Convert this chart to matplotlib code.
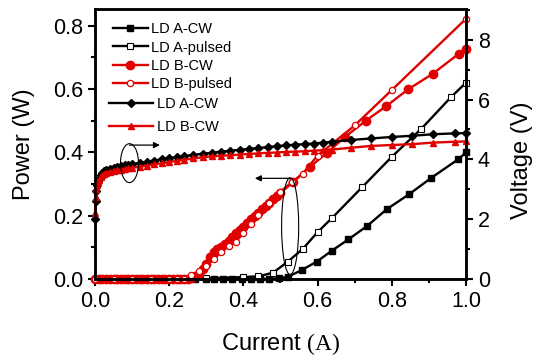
import matplotlib
matplotlib.use("Agg")
import matplotlib.pyplot as plt
from matplotlib.patches import Ellipse
from matplotlib.ticker import MultipleLocator, FormatStrFormatter

plt.rcParams['font.family'] = ['Liberation Sans', 'DejaVu Sans']
plt.rcParams['mathtext.fontset'] = 'custom'
plt.rcParams['mathtext.rm'] = 'Liberation Serif'

# ---- output power (W) vs current (A) ----
cur_a_cw = [0.27, 0.30, 0.32, 0.345, 0.37, 0.395, 0.42, 0.445, 0.47, 0.495,
            0.52, 0.557, 0.598, 0.638, 0.683, 0.734, 0.786, 0.847, 0.907, 0.979, 1.0]
pow_a_cw = [0.0, 0.0, 0.0, 0.0, 0.0, 0.0, 0.0, 0.0, 0.001, 0.002,
            0.007, 0.028, 0.055, 0.089, 0.125, 0.168, 0.22, 0.268, 0.32, 0.378, 0.40]

cur_a_pulsed = [0.30, 0.40, 0.44, 0.48, 0.52, 0.56, 0.60, 0.64, 0.72, 0.80, 0.88, 0.96, 1.0]
pow_a_pulsed = [0.002, 0.006, 0.008, 0.02, 0.055, 0.095, 0.148, 0.194, 0.29, 0.386, 0.475, 0.575, 0.62]

cur_b_cw = [0.0, 0.01, 0.02, 0.03, 0.04, 0.05, 0.06, 0.07, 0.08, 0.09,
            0.10, 0.11, 0.12, 0.13, 0.14, 0.15, 0.16, 0.17, 0.18, 0.19,
            0.20, 0.21, 0.22, 0.23, 0.24, 0.25, 0.26, 0.27, 0.28, 0.29,
            0.30, 0.31, 0.32, 0.33, 0.34, 0.35, 0.36, 0.37, 0.38, 0.39,
            0.40, 0.41, 0.42, 0.43, 0.44, 0.45, 0.46, 0.47, 0.48, 0.49,
            0.50, 0.535, 0.58, 0.625, 0.675, 0.73, 0.785, 0.845, 0.91, 0.98, 1.0]
pow_b_cw = [0.0, 0.0, 0.0, 0.0, 0.0, 0.0, 0.0, 0.0, 0.0, 0.0,
            0.0, 0.0, 0.0, 0.0, 0.0, 0.0, 0.0, 0.0, 0.0, 0.0,
            0.0, 0.0, 0.0, 0.0, 0.0, 0.0, 0.003, 0.008, 0.016, 0.03,
            0.048, 0.068, 0.085, 0.094, 0.102, 0.112, 0.121, 0.132, 0.144, 0.155,
            0.165, 0.178, 0.19, 0.199, 0.21, 0.221, 0.231, 0.241, 0.252, 0.262,
            0.272, 0.307, 0.355, 0.398, 0.45, 0.50, 0.546, 0.60, 0.648, 0.711, 0.726]

cur_b_pulsed = [0.0, 0.05, 0.10, 0.15, 0.20, 0.22, 0.24, 0.26, 0.28, 0.30,
                0.32, 0.34, 0.36, 0.38, 0.40, 0.42, 0.44, 0.47, 0.50, 0.53,
                0.56, 0.60, 0.70, 0.80, 1.0]
pow_b_pulsed = [0.0, 0.0, 0.0, 0.0, 0.0, 0.0, 0.0, 0.012, 0.024, 0.042,
                0.062, 0.085, 0.104, 0.118, 0.145, 0.175, 0.202, 0.239, 0.276, 0.305,
                0.333, 0.39, 0.485, 0.597, 0.822]

# ---- voltage (V) vs current (A) ----
cur_v = [0.0, 0.002, 0.004, 0.006, 0.008, 0.01, 0.015, 0.02, 0.025, 0.03,
         0.04, 0.05, 0.06, 0.07, 0.08, 0.09, 0.10, 0.12, 0.14, 0.16,
         0.18, 0.20, 0.22, 0.24, 0.265, 0.29, 0.315, 0.34, 0.365, 0.39,
         0.415, 0.44, 0.465, 0.49, 0.515, 0.54, 0.565, 0.59, 0.615, 0.64,
         0.69, 0.745, 0.80, 0.855, 0.91, 0.97, 1.0]
volt_a_cw = [2.0, 2.6, 2.95, 3.15, 3.28, 3.36, 3.48, 3.55, 3.6, 3.63,
             3.68, 3.72, 3.75, 3.78, 3.8, 3.82, 3.84, 3.88, 3.92, 3.96,
             4.0, 4.04, 4.07, 4.11, 4.15, 4.19, 4.22, 4.26, 4.29, 4.32,
             4.35, 4.38, 4.41, 4.44, 4.47, 4.49, 4.51, 4.53, 4.56, 4.59,
             4.65, 4.70, 4.75, 4.79, 4.84, 4.87, 4.88]
volt_b_cw = [2.2, 2.75, 3.0, 3.15, 3.25, 3.32, 3.42, 3.48, 3.52, 3.55,
             3.59, 3.62, 3.64, 3.66, 3.68, 3.70, 3.72, 3.75, 3.79, 3.83,
             3.87, 3.91, 3.95, 3.99, 4.03, 4.07, 4.1, 4.12, 4.14, 4.16,
             4.18, 4.2, 4.22, 4.23, 4.25, 4.26, 4.27, 4.29, 4.31, 4.33,
             4.39, 4.45, 4.48, 4.51, 4.56, 4.59, 4.6]

RED = '#e00000'

fig = plt.figure(figsize=(5.33, 3.62), dpi=100)
ax = fig.add_axes([0.1782, 0.2293, 0.6961, 0.7459])
ax2 = ax.twinx()

ax.plot(cur_a_cw, pow_a_cw, '-s', color='black', lw=1.7, ms=5,
        label='LD A-CW', clip_on=False)
ax.plot(cur_a_pulsed, pow_a_pulsed, '-s', color='black', lw=1.7, ms=5,
        mfc='white', mec='black', mew=0.8, label='LD A-pulsed', clip_on=False)
ax.plot(cur_b_cw, pow_b_cw, '-o', color=RED, lw=1.7, ms=6,
        label='LD B-CW', clip_on=False)
ax.plot(cur_b_pulsed, pow_b_pulsed, '-o', color=RED, lw=1.7, ms=4.5,
        mfc='white', mec=RED, mew=0.9, label='LD B-pulsed', clip_on=False)

ax2.plot(cur_v, volt_a_cw, '-D', color='black', lw=1.7, ms=4,
         label='LD A-CW', clip_on=False)
ax2.plot(cur_v, volt_b_cw, '-^', color=RED, lw=1.7, ms=5,
         label='LD B-CW', clip_on=False)

ax.set_xlim(0, 1.0)
ax.set_ylim(0, 0.853)
ax2.set_ylim(0, 9.03)

ax.xaxis.set_major_locator(MultipleLocator(0.2))
ax.xaxis.set_minor_locator(MultipleLocator(0.1))
ax.yaxis.set_major_locator(MultipleLocator(0.2))
ax.yaxis.set_minor_locator(MultipleLocator(0.1))
ax2.yaxis.set_major_locator(MultipleLocator(2))
ax2.yaxis.set_minor_locator(MultipleLocator(1))

for a in (ax, ax2):
    for s in a.spines.values():
        s.set_linewidth(1.8)
    a.tick_params(which='major', direction='out', length=5, width=1.5, labelsize=15.5)
    a.tick_params(which='minor', direction='out', length=3, width=1.5)
ax.tick_params(top=False, right=False, which='both')
ax.xaxis.set_major_formatter(FormatStrFormatter('%.1f'))
ax.yaxis.set_major_formatter(FormatStrFormatter('%.1f'))

ax.set_xlabel(r'Current $\mathrm{(A)}$', fontsize=17, labelpad=14)
ax.set_ylabel('Power (W)', fontsize=17, labelpad=13)
ax2.set_ylabel('Voltage (V)', fontsize=17)
ax2.yaxis.set_label_coords(1.12, 0.44)

# ellipse + arrow markers showing which axis each group belongs to
ax2.add_patch(Ellipse((0.093, 0.366), 0.0485, 0.123, transform=ax.transData,
                      fill=False, lw=0.8, ec='black', zorder=5))
ax2.annotate('', xy=(0.175, 0.423), xytext=(0.093, 0.423),
             xycoords=ax.transData, textcoords=ax.transData,
             arrowprops=dict(arrowstyle='-|>', lw=0.9, color='black',
                             mutation_scale=9, shrinkA=0, shrinkB=0))
ax2.add_patch(Ellipse((0.526, 0.167), 0.046, 0.306, transform=ax.transData,
                      fill=False, lw=0.8, ec='black', zorder=5))
ax2.annotate('', xy=(0.431, 0.318), xytext=(0.526, 0.318),
             xycoords=ax.transData, textcoords=ax.transData,
             arrowprops=dict(arrowstyle='-|>', lw=0.9, color='black',
                             mutation_scale=9, shrinkA=0, shrinkB=0))

ax.legend(loc='upper left', bbox_to_anchor=(0.212, 0.938),
          bbox_transform=fig.transFigure, frameon=False, fontsize=10.5,
          numpoints=1, handlelength=2.4, handletextpad=0.2,
          labelspacing=0.28, borderpad=0, borderaxespad=0)
ax2.legend(loc='upper left', bbox_to_anchor=(0.2045, 0.733),
           bbox_transform=fig.transFigure, frameon=False, fontsize=10.5,
           numpoints=1, handlelength=3.0, handletextpad=0.3,
           labelspacing=0.62, borderpad=0, borderaxespad=0)

fig.savefig('out.png', dpi=100)
